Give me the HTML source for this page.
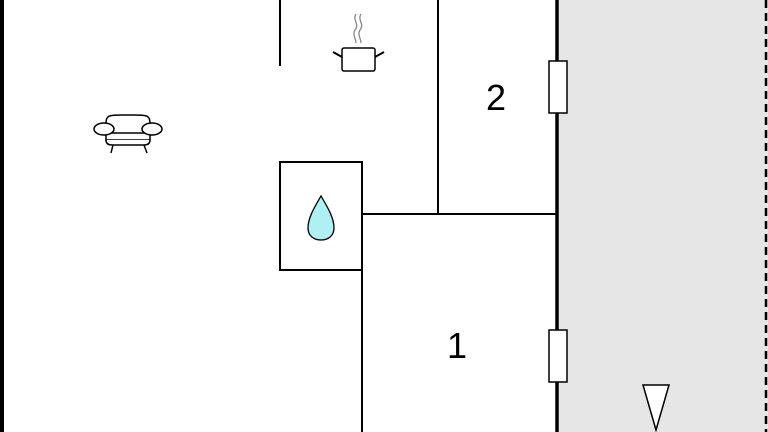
<!DOCTYPE html>
<html><head><style>html,body{margin:0;padding:0;background:#fff}svg{display:block}</style></head>
<body>
<svg width="768" height="432" viewBox="0 0 768 432" xmlns="http://www.w3.org/2000/svg">
<rect x="558" y="0" width="210" height="432" fill="#e6e6e6"/>
<rect x="0" y="0" width="4" height="432" fill="#000"/>
<line x1="766" y1="0" x2="766" y2="432" stroke="#000" stroke-width="2.5" stroke-dasharray="8,5"/>
<line x1="557" y1="0" x2="557" y2="432" stroke="#000" stroke-width="3.5"/>
<g stroke="#000" stroke-width="2" fill="none">
<line x1="280" y1="0" x2="280" y2="66"/>
<line x1="438" y1="0" x2="438" y2="215"/>
<line x1="362" y1="214" x2="557" y2="214"/>
<line x1="362" y1="214" x2="362" y2="432"/>
<rect x="280" y="162" width="82" height="108" fill="#fff"/>
</g>
<rect x="549" y="61" width="18" height="52" fill="#fff" stroke="#000" stroke-width="1.5"/>
<rect x="549" y="330" width="18" height="52" fill="#fff" stroke="#000" stroke-width="1.5"/>
<polygon points="643,385 669,385 656,430" fill="#fff" stroke="#000" stroke-width="1.5"/>
<path d="M321,196 C314,208 308,218 308,228 C308,236 314,240 321,240 C328,240 334,236 334,228 C334,218 328,208 321,196 Z" fill="#aef0f4" stroke="#000" stroke-width="1.3"/>
<g stroke="#888" stroke-width="1.3" fill="none">
<path d="M356,14 C352,20 360,24 355,30 C352,35 356,38 356,43"/>
<path d="M361,14 C357,20 365,24 360,30 C357,35 361,38 361,43"/>
</g>
<rect x="342" y="48" width="33" height="23" rx="2" fill="#fff" stroke="#000" stroke-width="1.5"/>
<line x1="333" y1="52" x2="342" y2="57" stroke="#000" stroke-width="2"/>
<line x1="384" y1="52" x2="375" y2="57" stroke="#000" stroke-width="2"/>
<text x="496" y="110" font-family="Liberation Sans, sans-serif" font-size="36" text-anchor="middle">2</text>
<text x="457" y="358" font-family="Liberation Sans, sans-serif" font-size="36" text-anchor="middle">1</text>
<g stroke="#000" stroke-width="1.5" fill="#fff">
<path d="M106,124 C106,114 110,115 128,115 C146,115 150,114 150,124 L150,140 L106,140 Z"/>
<line x1="107" y1="133" x2="149" y2="133"/>
<path d="M106,140 Q106,145 112,145 L144,145 Q150,145 150,140"/>
<ellipse cx="104" cy="129" rx="10" ry="6"/>
<ellipse cx="152" cy="129" rx="10" ry="6"/>
<line x1="113" y1="145" x2="111" y2="153"/>
<line x1="144" y1="145" x2="147" y2="153"/>
</g>
</svg>
</body></html>
